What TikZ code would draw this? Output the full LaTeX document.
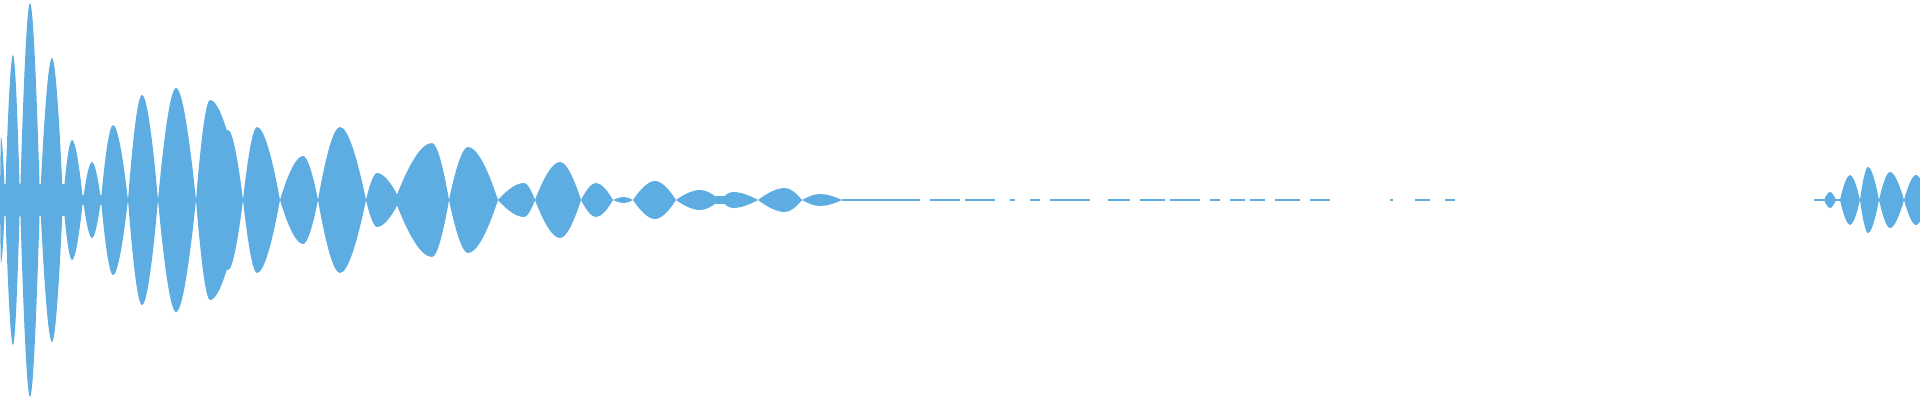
\documentclass[tikz,border=0pt]{standalone}
\usepackage{xcolor}
\definecolor{wavecol}{HTML}{5DADE2}
\tikzset{wave/.style={fill=wavecol,draw=none}}
\begin{document}
\begin{tikzpicture}[x=1pt,y=-1pt]
            \useasboundingbox (0,0) rectangle (1920,400);
            \begin{scope}
            \clip (0,0) rectangle (1920,400);
            % lobes: start/peak/end/amplitude
            \foreach \a/\p/\b/\h in {0/1/5/63,5/13/20/145,20/30/40/197,40/52/63/142,
              63/72/83/60,83/92/101/38,101/113/128/75,128/142/158/105,158/176/196/112,
              196/210/243/100,210/228/243/70,243/257/280/73,280/303/318/44,318/340/366/73,
              366/377/400/27,395/432/449/57,449/468/498/53,498/524/535/17,535/560/581/38,
              581/596/613/17,613/624/633/3,633/655/676/19,676/700/720/10,700/720/740/4,
              720/733/758/8,758/785/802/12,802/820/842/6,
              1824/1830/1836/8,1840/1850/1860/25,1860/1868/1879/33,1879/1890/1904/28,1904/1916/1928/25}
            {\fill[wave] (\a,200) .. controls ({\a+0.35*(\p-\a)},{200-0.6*\h}) and ({\p-0.3*(\p-\a)},{200-\h}) .. (\p,{200-\h})
              .. controls ({\p+0.3*(\b-\p)},{200-\h}) and ({\b-0.35*(\b-\p)},{200-0.6*\h}) .. (\b,200)
              .. controls ({\b-0.35*(\b-\p)},{200+0.6*\h}) and ({\p+0.3*(\b-\p)},{200+\h}) .. (\p,{200+\h})
              .. controls ({\p-0.3*(\p-\a)},{200+\h}) and ({\a+0.35*(\p-\a)},{200+0.6*\h}) .. cycle;}
            % centre band of the loud start
            \fill[wave] (0,184) rectangle (65,216);
            \fill[wave] (65,195) rectangle (105,205);
            % quiet tail
            \foreach \a/\b in {842/920,930/960,965/995,1010/1015,1030/1040,1050/1090,1108/1130,
              1140/1165,1170/1200,1210/1220,1230/1245,1250/1265,1275/1300,1310/1330,
              1390/1393,1415/1430,1445/1455,1814/1822,1822/1840}
            {\fill[wave] (\a,199) rectangle (\b,201);}
            \end{scope}
            \end{tikzpicture}
\end{document}
